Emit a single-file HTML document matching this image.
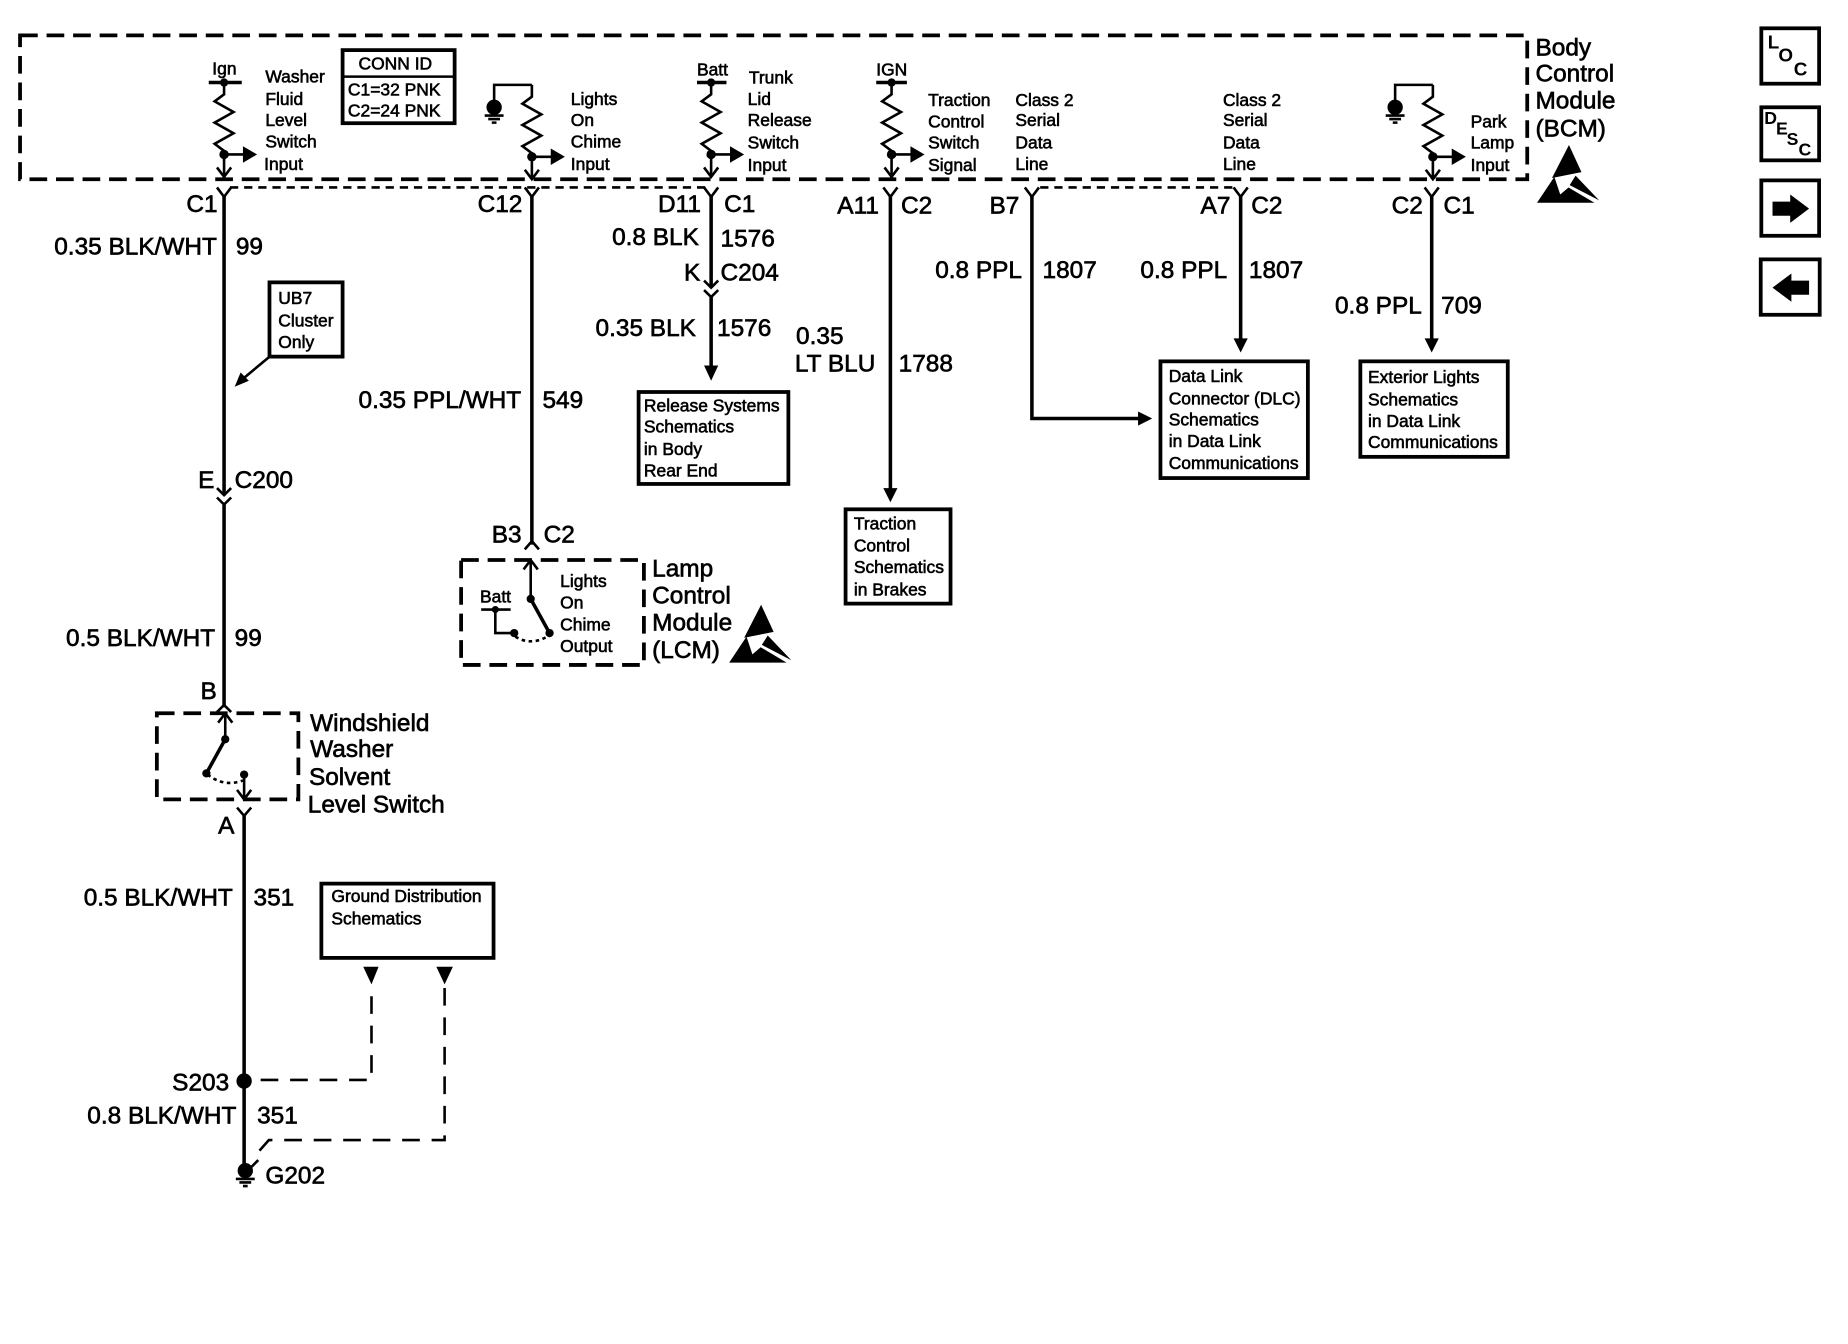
<!DOCTYPE html>
<html><head><meta charset="utf-8"><style>
html,body{margin:0;padding:0;background:#fff}
svg{display:block}
text{font-family:"Liberation Sans",sans-serif;fill:#000;stroke:#000}
.t text{font-size:20.7px;stroke-width:.55}
.s text{font-size:14.8px;stroke-width:.5}
.w{fill:none;stroke:#000;stroke-width:3}
.n{fill:none;stroke:#000;stroke-width:2.2}
.b{fill:none;stroke:#000;stroke-width:3.2}
.d{fill:none;stroke:#000;stroke-width:3.2;stroke-dasharray:15 7.5}
.f{fill:#000;stroke:none}
</style></head><body>
<svg width="1848" height="1344" viewBox="0 0 1567 1140" preserveAspectRatio="none" xmlns="http://www.w3.org/2000/svg">
<defs>
<g id="res"><path class="n" d="M0 0V10L-8 16L8 25L-8 34L8 43L-8 52L0 58V80M0 61H18"/><polygon class="f" points="16,54 28,61 16,68"/><path class="n" d="M-6 72L0 80L6 72"/><circle class="f" cx="0" cy="61" r="4"/></g>
<g id="gnd"><circle class="f" cx="0" cy="-1" r="6.5"/><path class="n" d="M-8 6H8M-5 9H5M-2 12H2"/></g>
<g id="esd"><polygon class="f" points="1330.4,123 1341,146 1316,151"/><polygon class="f" points="1336,149 1356,170 1331,157"/><polygon class="f" points="1303.3,172 1318,150 1323,165 1330,159 1352,172"/></g>
</defs>

<!-- BCM -->
<rect x="17" y="30" width="1278" height="122" class="d"/>
<path class="n" stroke-dasharray="7 5" stroke-width="1.8" d="M195 159H600M882 159H1048"/>
<use href="#res" x="190" y="70"/><path class="w" d="M177 70H205"/><circle class="f" cx="190" cy="70" r="3.5"/>
<use href="#res" x="451" y="72"/><path class="n" d="M451 72H419V92"/><use href="#gnd" x="419" y="92"/>
<use href="#res" x="603" y="70"/><path class="w" d="M591 70H616"/><circle class="f" cx="603" cy="70" r="3.5"/>
<use href="#res" x="756" y="70"/><path class="w" d="M743 70H769"/><circle class="f" cx="756" cy="70" r="3.5"/>
<use href="#res" x="1215" y="72"/><path class="n" d="M1215 72H1183V92"/><use href="#gnd" x="1183" y="92"/>

<g class="s">
<text x="180" y="63">Ign</text>
<text x="225" y="70">Washer</text><text x="225" y="89">Fluid</text><text x="225" y="107">Level</text><text x="225" y="125">Switch</text><text x="224" y="144">Input</text>
<text x="484" y="89">Lights</text><text x="484" y="107">On</text><text x="484" y="125">Chime</text><text x="484" y="144">Input</text>
<text x="591" y="64">Batt</text>
<text x="635" y="71">Trunk</text><text x="634" y="89">Lid</text><text x="634" y="107">Release</text><text x="634" y="126">Switch</text><text x="634" y="145">Input</text>
<text x="743" y="64">IGN</text>
<text x="787" y="90">Traction</text><text x="787" y="108">Control</text><text x="787" y="126">Switch</text><text x="787" y="145">Signal</text>
<text x="861" y="90">Class 2</text><text x="861" y="107">Serial</text><text x="861" y="126">Data</text><text x="861" y="144">Line</text>
<text x="1037" y="90">Class 2</text><text x="1037" y="107">Serial</text><text x="1037" y="126">Data</text><text x="1037" y="144">Line</text>
<text x="1247" y="108">Park</text><text x="1247" y="126">Lamp</text><text x="1247" y="145">Input</text>
<text x="304" y="59">CONN ID</text><text x="295" y="81">C1=32 PNK</text><text x="295" y="99">C2=24 PNK</text>
<text x="236" y="258">UB7</text><text x="236" y="277">Cluster</text><text x="236" y="295">Only</text>
<text x="546" y="349">Release Systems</text><text x="546" y="367">Schematics</text><text x="546" y="386">in Body</text><text x="546" y="404">Rear End</text>
<text x="724" y="449">Traction</text><text x="724" y="468">Control</text><text x="724" y="486">Schematics</text><text x="724" y="505">in Brakes</text>
<text x="991" y="324">Data Link</text><text x="991" y="343">Connector (DLC)</text><text x="991" y="361">Schematics</text><text x="991" y="379">in Data Link</text><text x="991" y="398">Communications</text>
<text x="1160" y="325">Exterior Lights</text><text x="1160" y="344">Schematics</text><text x="1160" y="362">in Data Link</text><text x="1160" y="380">Communications</text>
<text x="281" y="765">Ground Distribution</text><text x="281" y="784">Schematics</text>
<text x="475" y="498">Lights</text><text x="475" y="516">On</text><text x="475" y="535">Chime</text><text x="475" y="553">Output</text><text x="407" y="511">Batt</text>
</g>

<g class="t">
<text x="1302" y="47">Body</text><text x="1302" y="69">Control</text><text x="1302" y="92">Module</text><text x="1302" y="116">(BCM)</text>
<text x="158" y="180">C1</text><text x="405" y="180">C12</text><text x="558" y="180">D11</text><text x="614" y="180">C1</text>
<text x="710" y="181">A11</text><text x="764" y="181">C2</text><text x="839" y="181">B7</text><text x="1018" y="181">A7</text><text x="1061" y="181">C2</text><text x="1180" y="181">C2</text><text x="1224" y="181">C1</text>
<text x="46" y="216">0.35 BLK/WHT</text><text x="200" y="216">99</text>
<text x="304" y="346">0.35 PPL/WHT</text><text x="460" y="346">549</text>
<text x="519" y="208">0.8 BLK</text><text x="611" y="209">1576</text>
<text x="580" y="238">K</text><text x="611" y="238">C204</text>
<text x="505" y="285">0.35 BLK</text><text x="608" y="285">1576</text>
<text x="675" y="292">0.35</text><text x="674" y="315">LT BLU</text><text x="762" y="315">1788</text>
<text x="793" y="236">0.8 PPL</text><text x="884" y="236">1807</text>
<text x="967" y="236">0.8 PPL</text><text x="1059" y="236">1807</text>
<text x="1132" y="266">0.8 PPL</text><text x="1222" y="266">709</text>
<text x="168" y="414">E</text><text x="199" y="414">C200</text>
<text x="56" y="548">0.5 BLK/WHT</text><text x="199" y="548">99</text>
<text x="170" y="593">B</text>
<text x="263" y="620">Windshield</text><text x="263" y="642">Washer</text><text x="262" y="666">Solvent</text><text x="261" y="689">Level Switch</text>
<text x="185" y="707">A</text>
<text x="71" y="768">0.5 BLK/WHT</text><text x="215" y="768">351</text>
<text x="146" y="925">S203</text>
<text x="74" y="953">0.8 BLK/WHT</text><text x="218" y="953">351</text>
<text x="225" y="1004">G202</text>
<text x="417" y="460">B3</text><text x="461" y="460">C2</text>
<text x="553" y="489">Lamp</text><text x="553" y="512">Control</text><text x="553" y="535">Module</text><text x="553" y="558">(LCM)</text>
</g>

<!-- wires -->
<g class="n"><path d="M184 159L190 167L196 159M445 159L451 167L457 159M597 159L603 167L609 159M749 159L755 167L761 159M869 159L875 167L881 159M1046 159L1052 167L1058 159M1208 159L1214 167L1220 159"/></g>
<path class="w" d="M190 165V420M190 428V600M451 165V462M603 165V244M603 252V312M755 165V416M875 165V355H966M1052 165V290M1214 165V290M207 692V990"/>
<path class="n" d="M184 414L190 420L196 414M184 422L190 428L196 422M597 238L603 244L609 238M597 246L603 252L609 246M184 604L190 598L196 604M201 685L207 692L213 685M445 466L451 459L457 466"/>
<polygon class="f" points="597,310 609,310 603,323"/>
<polygon class="f" points="749,414 761,414 755,426"/>
<polygon class="f" points="965,349 977,355 965,361"/>
<polygon class="f" points="1046,287 1058,287 1052,299"/>
<polygon class="f" points="1208,287 1220,287 1214,299"/>

<!-- boxes -->
<rect x="290.5" y="42.5" width="95" height="62" class="b"/><path class="n" d="M291 65H385"/>
<rect x="228.5" y="239.5" width="62" height="63" class="b"/>
<path class="n" d="M228 303L204 323"/><polygon class="f" points="199,328 204,316 211,323"/>
<rect x="541.5" y="332.5" width="127" height="78" class="b"/>
<rect x="717" y="432" width="89" height="80" class="b"/>
<rect x="984" y="306.5" width="125" height="99" class="b"/>
<rect x="1153.5" y="306.5" width="125" height="81" class="b"/>
<rect x="272.5" y="749.5" width="146" height="63" class="b"/>

<!-- washer switch -->
<rect x="133" y="605" width="120" height="73" class="d"/>
<path class="n" d="M191 605V627"/><path class="n" d="M185 613L191 605L197 613"/>
<path class="w" d="M191 627L175 656"/>
<circle class="f" cx="191" cy="627" r="3.5"/><circle class="f" cx="175" cy="656" r="3.5"/><circle class="f" cx="207" cy="657" r="3.5"/>
<path class="n" stroke-dasharray="3 3" d="M176 657Q190 668 206 662"/>
<path class="n" d="M207 657V678M201 670L207 678L213 670"/>

<!-- LCM -->
<rect x="391" y="475" width="155" height="89" class="d"/>
<path class="n" d="M450 475V508M444 483L450 475L456 483"/>
<path class="w" d="M450 508L466 537"/>
<circle class="f" cx="450" cy="508" r="3.5"/><circle class="f" cx="466" cy="537" r="3.5"/><circle class="f" cx="436" cy="537" r="3.5"/><circle class="f" cx="420" cy="517" r="3"/>
<path class="n" d="M408 517H433M420 517V537H436"/>
<path class="n" stroke-dasharray="3 3" d="M437 540Q450 548 464 540"/>
<use href="#esd"/>
<use href="#esd" x="-685" y="390"/>

<!-- ground section -->
<circle class="f" cx="207" cy="917" r="6.5"/>
<path class="n" stroke-dasharray="15 10" d="M221 916H315V838"/>
<path class="n" stroke-dasharray="15 10" d="M377 838V967H228L220 976"/>
<polygon class="f" points="308,820 321,820 315,835"/>
<polygon class="f" points="370,820 384,820 377,835"/>
<use href="#gnd" x="208" y="994"/>
<path class="n" d="M211 992L219 984"/>

<!-- side icons -->
<rect x="1493.5" y="24" width="49" height="47" class="b"/>
<rect x="1493.5" y="91" width="49" height="45" class="b"/>
<rect x="1493.5" y="153" width="49" height="47" class="b"/>
<rect x="1493" y="220" width="50" height="47" class="b"/>
<g style="font-weight:bold">
<text x="1499" y="41" style="font-size:16px;stroke:none">L</text><text x="1508" y="52" style="font-size:16px;stroke:none">O</text><text x="1521" y="64" style="font-size:16px;stroke:none">C</text>
<text x="1496" y="105" style="font-size:15px;stroke:none">D</text><text x="1506" y="114" style="font-size:15px;stroke:none">E</text><text x="1515" y="123" style="font-size:15px;stroke:none">S</text>
<text x="1525" y="132" style="font-size:15px;stroke:none">C</text>
</g>
<polygon class="f" points="1503,171 1518,171 1518,165 1534,177 1518,189 1518,183 1503,183"/>
<polygon class="f" points="1534,238 1519,238 1519,232 1503,244 1519,256 1519,250 1534,250"/>
</svg>
</body></html>
